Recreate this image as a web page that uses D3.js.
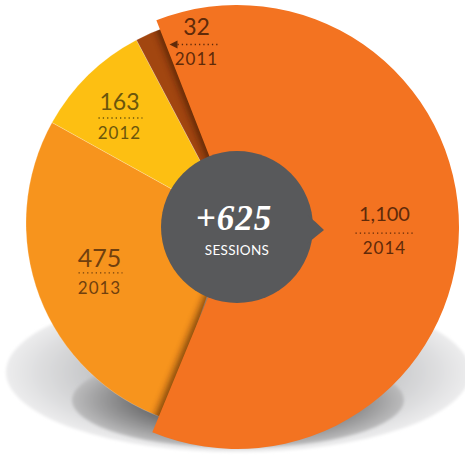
<!DOCTYPE html>
<html>
<head>
<meta charset="utf-8">
<script src="https://cdnjs.cloudflare.com/ajax/libs/d3/7.8.5/d3.min.js"></script>
<style>
  html, body { margin: 0; padding: 0; background: #fff; }
  svg { display: block; }
</style>
</head>
<body>
<script>
const WIDTH = 465
const HEIGHT = 457

// data
const years = ['2014', '2013', '2012', '2011']
const sessions = [1100, 475, 163, 32]
const valueLabels = ['1,100', '475', '163', '32']
const centerValue = '+625'
const centerLabel = 'SESSIONS'

// look
const sliceColors = ['#f37321', '#f7941d', '#fdbf12', '#a24610']
const textColors = ['#602a09', '#70400e', '#6b560c', '#602a09']
const valueSizes = [20, 25, 23, 23]
const DEG = Math.PI / 180

const svg = d3.select('body').append('svg')
  .attr('width', WIDTH)
  .attr('height', HEIGHT)

const defs = svg.append('defs')

const outerGrad = defs.append('radialGradient').attr('id', 'outerShadow')
outerGrad.append('stop').attr('offset', '0%').attr('stop-color', '#9c9ea1')
outerGrad.append('stop').attr('offset', '60%').attr('stop-color', '#c3c4c6')
outerGrad.append('stop').attr('offset', '100%').attr('stop-color', '#ececed')

const innerGrad = defs.append('radialGradient').attr('id', 'innerShadow')
innerGrad.append('stop').attr('offset', '0%').attr('stop-color', '#4a4a4b')
innerGrad.append('stop').attr('offset', '60%').attr('stop-color', '#727273')
innerGrad.append('stop').attr('offset', '100%').attr('stop-color', '#bcbcbd')

const soft = defs.append('filter').attr('id', 'soft')
  .attr('x', '-10%').attr('y', '-10%').attr('width', '120%').attr('height', '120%')
soft.append('feGaussianBlur').attr('stdDeviation', 1.5)

const edgeBlur = defs.append('filter').attr('id', 'edgeBlur')
  .attr('x', '-20%').attr('y', '-20%').attr('width', '140%').attr('height', '140%')
edgeBlur.append('feGaussianBlur').attr('stdDeviation', 3.5)

// floor shadow
svg.append('ellipse')
  .attr('cx', 238).attr('cy', 372).attr('rx', 232).attr('ry', 80)
  .attr('fill', 'url(#outerShadow)').attr('filter', 'url(#soft)')
svg.append('ellipse')
  .attr('cx', 238).attr('cy', 400).attr('rx', 166).attr('ry', 48)
  .attr('fill', 'url(#innerShadow)').attr('filter', 'url(#soft)')

const rows = years.map((y, i) => ({ year: y, value: sessions[i], label: valueLabels[i], i }))

const pie = d3.pie()
  .sort(null)
  .startAngle(-21.3 * DEG)
  .endAngle(338.7 * DEG)
  .value(d => d.value)
const arcs = pie(rows)

// 2014 is drawn bigger and slightly pulled out
const baseCenter = [233, 223]
const bigCenter = [237, 227]
const SMALL_R = 207
const arcSmall = d3.arc().innerRadius(0).outerRadius(SMALL_R)
const arcBig = d3.arc().innerRadius(0).outerRadius(222)

defs.append('clipPath').attr('id', 'pieClip')
  .append('circle')
  .attr('cx', baseCenter[0]).attr('cy', baseCenter[1]).attr('r', SMALL_R)

const pieG = svg.append('g')

// small slices run a little under the big one so no gap shows
const tuck = 3 * DEG
const small = arcs.filter(a => a.data.i !== 0).map(a => ({
  ...a,
  startAngle: a.data.i === 1 ? a.startAngle - tuck : a.startAngle,
  endAngle: a.data.i === 3 ? a.endAngle + tuck : a.endAngle
}))

pieG.selectAll('path.small')
  .data(small)
  .enter()
  .append('path')
  .attr('class', 'small')
  .attr('transform', `translate(${baseCenter})`)
  .attr('d', arcSmall)
  .attr('fill', d => sliceColors[d.data.i])
  .attr('stroke', 'rgba(255,255,255,0.35)')
  .attr('stroke-width', 0.6)

// shadow of the big slice, cast on the smaller ones only
const big = arcs.filter(a => a.data.i === 0)
pieG.append('g')
  .attr('clip-path', 'url(#pieClip)')
  .selectAll('path')
  .data(big)
  .enter()
  .append('path')
  .attr('transform', `translate(${bigCenter[0] - 4},${bigCenter[1]})`)
  .attr('d', arcBig)
  .attr('fill', '#3a1604')
  .attr('opacity', 0.6)
  .attr('filter', 'url(#edgeBlur)')

pieG.selectAll('path.big')
  .data(big)
  .enter()
  .append('path')
  .attr('class', 'big')
  .attr('transform', `translate(${bigCenter})`)
  .attr('d', arcBig)
  .attr('fill', d => sliceColors[d.data.i])

// centre bubble with pointer
const bubble = svg.append('g').attr('transform', `translate(${bigCenter})`)
bubble.append('circle').attr('r', 76).attr('fill', '#58595b')
bubble.append('path')
  .attr('d', 'M70,-12 Q78,-6 87,3 Q78,10 70,17 Z')
  .attr('fill', '#58595b')
bubble.append('text')
  .attr('x', -3).attr('y', 3)
  .attr('text-anchor', 'middle')
  .attr('font-family', '"Liberation Serif", serif')
  .attr('font-style', 'italic')
  .attr('font-weight', 'bold')
  .attr('font-size', 35)
  .attr('letter-spacing', 1)
  .attr('fill', '#fff')
  .text(centerValue)
bubble.append('text')
  .attr('x', 0).attr('y', 28)
  .attr('text-anchor', 'middle')
  .attr('font-family', 'Lato, sans-serif')
  .attr('font-size', 13.5)
  .attr('letter-spacing', 0.3)
  .attr('fill', '#fff')
  .text(centerLabel)

// labels: polar placement from the slice angles
const labelLayout = [
  { center: bigCenter, r: 148.6, da: 1.8, gap: 12, halfLine: 30 },
  { center: baseCenter, r: 141.6, da: -1.4, gap: 6, halfLine: 22 },
  { center: baseCenter, r: 153.9, da: -2.6, gap: 8, halfLine: 22 },
  { center: baseCenter, r: 182, da: 13.3, gap: 9, halfLine: 20 }
]

arcs.forEach(a => {
  const i = a.data.i
  const L = labelLayout[i]
  const ang = (a.startAngle + a.endAngle) / 2 + L.da * DEG
  const x = L.center[0] + L.r * Math.sin(ang)
  const y = L.center[1] - L.r * Math.cos(ang)
  const g = svg.append('g').attr('transform', `translate(${x},${y})`)

  g.append('text')
    .attr('x', -1).attr('y', -L.gap)
    .attr('text-anchor', 'middle')
    .attr('font-family', 'Lato, sans-serif')
    .attr('font-size', valueSizes[i])
    .attr('fill', textColors[i])
    .text(a.data.label)

  g.append('line')
    .attr('x1', -L.halfLine).attr('x2', L.halfLine)
    .attr('stroke', textColors[i])
    .attr('stroke-width', 1.3)
    .attr('stroke-dasharray', '1.3,3')

  g.append('text')
    .attr('x', -1).attr('y', 21)
    .attr('text-anchor', 'middle')
    .attr('font-family', 'Lato, sans-serif')
    .attr('font-size', 17)
    .attr('letter-spacing', 1)
    .attr('fill', textColors[i])
    .text(a.data.year)

  if (i === 3) {
    // arrow pointing back to the thin 2011 slice
    g.append('path')
      .attr('d', `M${-L.halfLine - 8},0 L${-L.halfLine},-4 L${-L.halfLine},4 Z`)
      .attr('fill', textColors[i])
  }
})
</script>
</body>
</html>
